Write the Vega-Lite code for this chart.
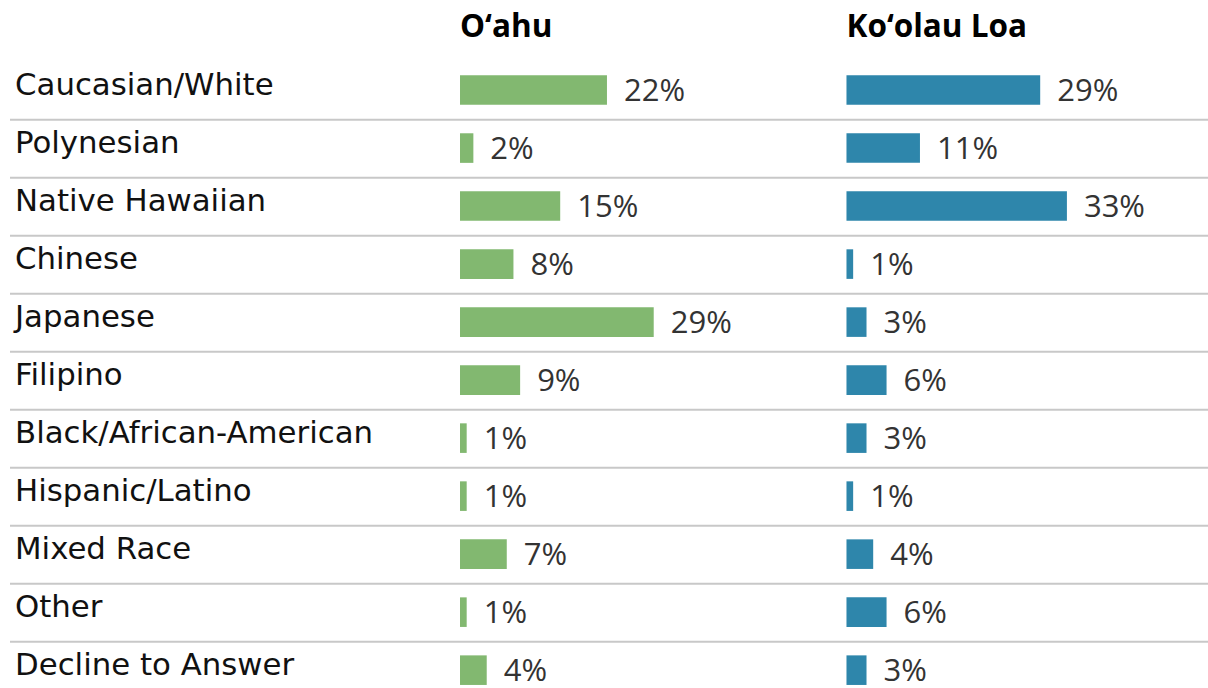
{
  "$schema": "https://vega.github.io/schema/vega-lite/v6.json",
  "width": 1198,
  "height": 688,
  "autosize": {"type": "none"},
  "padding": {"left": 10, "top": 0, "right": 0, "bottom": 0},
  "background": "#ffffff",
  "config": {"view": {"stroke": null}, "font": "Open Sans"},
  "datasets": {
    "rows": [
      {"group": "O‘ahu", "cat": "Caucasian/White", "pct": 0.22},
      {"group": "O‘ahu", "cat": "Polynesian", "pct": 0.02},
      {"group": "O‘ahu", "cat": "Native Hawaiian", "pct": 0.15},
      {"group": "O‘ahu", "cat": "Chinese", "pct": 0.08},
      {"group": "O‘ahu", "cat": "Japanese", "pct": 0.29},
      {"group": "O‘ahu", "cat": "Filipino", "pct": 0.09},
      {"group": "O‘ahu", "cat": "Black/African-American", "pct": 0.01},
      {"group": "O‘ahu", "cat": "Hispanic/Latino", "pct": 0.01},
      {"group": "O‘ahu", "cat": "Mixed Race", "pct": 0.07},
      {"group": "O‘ahu", "cat": "Other", "pct": 0.01},
      {"group": "O‘ahu", "cat": "Decline to Answer", "pct": 0.04},
      {"group": "Ko‘olau Loa", "cat": "Caucasian/White", "pct": 0.29},
      {"group": "Ko‘olau Loa", "cat": "Polynesian", "pct": 0.11},
      {"group": "Ko‘olau Loa", "cat": "Native Hawaiian", "pct": 0.33},
      {"group": "Ko‘olau Loa", "cat": "Chinese", "pct": 0.01},
      {"group": "Ko‘olau Loa", "cat": "Japanese", "pct": 0.03},
      {"group": "Ko‘olau Loa", "cat": "Filipino", "pct": 0.06},
      {"group": "Ko‘olau Loa", "cat": "Black/African-American", "pct": 0.03},
      {"group": "Ko‘olau Loa", "cat": "Hispanic/Latino", "pct": 0.01},
      {"group": "Ko‘olau Loa", "cat": "Mixed Race", "pct": 0.04},
      {"group": "Ko‘olau Loa", "cat": "Other", "pct": 0.06},
      {"group": "Ko‘olau Loa", "cat": "Decline to Answer", "pct": 0.03}
    ],
    "headers": [
      {"group": "O‘ahu", "cat": "header"},
      {"group": "Ko‘olau Loa", "cat": "header"}
    ]
  },
  "encoding": {
    "y": {
      "field": "cat", "type": "nominal", "axis": null,
      "scale": {
        "domain": ["header", "Caucasian/White", "Polynesian", "Native Hawaiian", "Chinese", "Japanese", "Filipino", "Black/African-American", "Hispanic/Latino", "Mixed Race", "Other", "Decline to Answer"],
        "paddingInner": 0.49, "paddingOuter": 0.175, "align": 0.85
      }
    }
  },
  "layer": [
    {
      "data": {"name": "rows"},
      "transform": [{"filter": "datum.group === 'O‘ahu' && datum.cat !== 'Decline to Answer'"}],
      "mark": {"type": "rule", "color": "#c8c8c8", "strokeWidth": 2},
      "encoding": {
        "y": {
          "field": "cat", "type": "nominal", "axis": null, "bandPosition": 1.5,
          "scale": {
            "domain": ["header", "Caucasian/White", "Polynesian", "Native Hawaiian", "Chinese", "Japanese", "Filipino", "Black/African-American", "Hispanic/Latino", "Mixed Race", "Other", "Decline to Answer"],
            "paddingInner": 0.49, "paddingOuter": 0.175, "align": 0.85
          }
        }
      }
    },
    {
      "data": {"name": "rows"},
      "transform": [{"filter": "datum.group === 'O‘ahu'"}],
      "mark": {"type": "text", "align": "left", "baseline": "middle", "dx": 5, "dy": -4, "fontSize": 30.8, "font": "DejaVu Sans", "color": "#111111"},
      "encoding": {
        "x": {"datum": 0, "type": "quantitative", "scale": {"domain": [0, 1]}, "axis": null},
        "text": {"field": "cat"}
      }
    },
    {
      "layer": [
        {
          "data": {"name": "rows"},
          "transform": [{"filter": "datum.group === 'O‘ahu'"}],
          "mark": {"type": "bar", "color": "#82b870"},
          "encoding": {
            "x": {"field": "pct", "type": "quantitative", "scale": {"domain": [-0.6737, 1.1198], "zero": false, "nice": false}, "axis": null},
            "x2": {"datum": 0}
          }
        },
        {
          "data": {"name": "rows"},
          "transform": [{"filter": "datum.group === 'O‘ahu'"}],
          "mark": {"type": "text", "align": "left", "baseline": "middle", "dx": 17, "dy": 2, "fontSize": 31, "color": "#333333"},
          "encoding": {
            "x": {"field": "pct", "type": "quantitative", "scale": {"domain": [-0.6737, 1.1198], "zero": false, "nice": false}, "axis": null},
            "text": {"field": "pct", "format": ".0%"}
          }
        },
        {
          "data": {"name": "headers"},
          "transform": [{"filter": "datum.group === 'O‘ahu'"}],
          "mark": {"type": "text", "align": "left", "baseline": "middle", "dy": -4, "fontSize": 31.5, "fontWeight": "bold", "color": "#000000"},
          "encoding": {
            "x": {"datum": 0, "type": "quantitative", "scale": {"domain": [-0.6737, 1.1198], "zero": false, "nice": false}, "axis": null},
            "text": {"field": "group"}
          }
        }
      ]
    },
    {
      "layer": [
        {
          "data": {"name": "rows"},
          "transform": [{"filter": "datum.group === 'Ko‘olau Loa'"}],
          "mark": {"type": "bar", "color": "#2e86ab"},
          "encoding": {
            "x": {"field": "pct", "type": "quantitative", "scale": {"domain": [-1.2522, 0.5412], "zero": false, "nice": false}, "axis": null},
            "x2": {"datum": 0}
          }
        },
        {
          "data": {"name": "rows"},
          "transform": [{"filter": "datum.group === 'Ko‘olau Loa'"}],
          "mark": {"type": "text", "align": "left", "baseline": "middle", "dx": 17, "dy": 2, "fontSize": 31, "color": "#333333"},
          "encoding": {
            "x": {"field": "pct", "type": "quantitative", "scale": {"domain": [-1.2522, 0.5412], "zero": false, "nice": false}, "axis": null},
            "text": {"field": "pct", "format": ".0%"}
          }
        },
        {
          "data": {"name": "headers"},
          "transform": [{"filter": "datum.group === 'Ko‘olau Loa'"}],
          "mark": {"type": "text", "align": "left", "baseline": "middle", "dy": -4, "fontSize": 31.5, "fontWeight": "bold", "color": "#000000"},
          "encoding": {
            "x": {"datum": 0, "type": "quantitative", "scale": {"domain": [-1.2522, 0.5412], "zero": false, "nice": false}, "axis": null},
            "text": {"field": "group"}
          }
        }
      ]
    }
  ],
  "resolve": {"scale": {"x": "independent"}}
}
